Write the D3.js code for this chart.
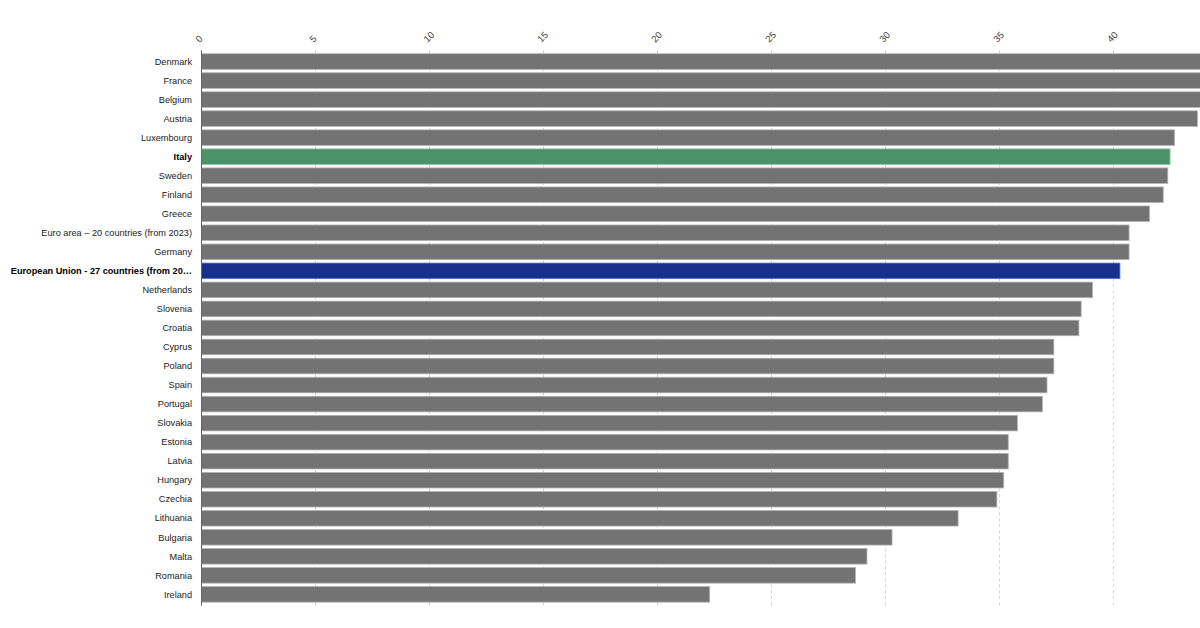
<!DOCTYPE html>
<meta charset="utf-8">
<script src="https://cdn.jsdelivr.net/npm/d3@7"></script>
<style>
	body { margin: 0; background: #fff; }
	text { font-family: "Liberation Sans", Arial, Helvetica, sans-serif; }
</style>
<body>
<script>
var countries = ["Denmark", "France", "Belgium", "Austria", "Luxembourg", "Italy", "Sweden", "Finland", "Greece",
	"Euro area \u2013 20 countries (from 2023)", "Germany", "European Union - 27 countries (from 20\u2026",
	"Netherlands", "Slovenia", "Croatia", "Cyprus", "Poland", "Spain", "Portugal", "Slovakia", "Estonia",
	"Latvia", "Hungary", "Czechia", "Lithuania", "Bulgaria", "Malta", "Romania", "Ireland"];
var values = [46.0, 45.6, 45.3, 43.7, 42.7, 42.5, 42.4, 42.2, 41.6,
	40.7, 40.7, 40.3,
	39.1, 38.6, 38.5, 37.4, 37.4, 37.1, 36.9, 35.8, 35.4,
	35.4, 35.2, 34.9, 33.2, 30.3, 29.2, 28.7, 22.3];
var highlight = { "Italy": "green", "European Union - 27 countries (from 20\u2026": "blue" };
var tickValues = [0, 5, 10, 15, 20, 25, 30, 35, 40];

var w = 1200, h = 628,
	plotLeft = 201.5, unit = 22.79,
	plotTop = 50.3, plotBottom = 605.6;

var data = countries.map(function(c, i) { return { name: c, value: values[i] }; });

var svg = d3.select("body").append("svg")
	.attr("width", w)
	.attr("height", h);

var x = d3.scaleLinear().domain([0, 46]).range([plotLeft, plotLeft + 46 * unit]);
var y = d3.scaleBand().domain(countries).range([plotTop, plotBottom]).paddingInner(0.18).paddingOuter(0.18);

// dashed grid
svg.selectAll(".grid")
	.data(tickValues.slice(1))
	.enter()
	.append("line")
	.attr("class", "grid")
	.attr("x1", function(d) { return Math.round(x(d)) + 0.5; })
	.attr("x2", function(d) { return Math.round(x(d)) + 0.5; })
	.attr("y1", plotTop)
	.attr("y2", plotBottom)
	.style("stroke", "#d4d4d4")
	.style("stroke-dasharray", "3,3");

// top tick labels, rotated
svg.selectAll(".tickLabel")
	.data(tickValues)
	.enter()
	.append("text")
	.attr("class", "tickLabel")
	.attr("transform", function(d) { return "translate(" + (x(d) - 2) + ",43) rotate(-45)"; })
	.style("font-size", "9.5px")
	.style("fill", "#444")
	.text(function(d) { return d; });

var fills = { green: "#4b9169", blue: "#17318b" };
var strokes = { green: "#93c9a6", blue: "#5c75cc" };

svg.selectAll(".bar")
	.data(data)
	.enter()
	.append("rect")
	.attr("class", "bar")
	.attr("x", x(0))
	.attr("y", function(d) { return y(d.name); })
	.attr("width", function(d) { return x(d.value) - x(0); })
	.attr("height", y.bandwidth())
	.style("fill", function(d) { return highlight[d.name] ? fills[highlight[d.name]] : "#737373"; })
	.style("stroke", function(d) { return highlight[d.name] ? strokes[highlight[d.name]] : "#b5b5b5"; })
	.style("stroke-width", 0.8);

// left axis line
svg.append("line")
	.attr("x1", plotLeft).attr("x2", plotLeft)
	.attr("y1", plotTop).attr("y2", plotBottom)
	.style("stroke", "#666")
	.style("stroke-width", 1);

svg.selectAll(".countryLabel")
	.data(data)
	.enter()
	.append("text")
	.attr("class", "countryLabel")
	.attr("x", 192)
	.attr("y", function(d) { return y(d.name) + y.bandwidth() / 2; })
	.attr("dy", "0.35em")
	.style("text-anchor", "end")
	.style("font-size", "9.2px")
	.style("fill", function(d) { return highlight[d.name] ? "#000" : "#222"; })
	.style("font-weight", function(d) { return highlight[d.name] ? "bold" : "normal"; })
	.text(function(d) { return d.name; });
</script>
</body>
